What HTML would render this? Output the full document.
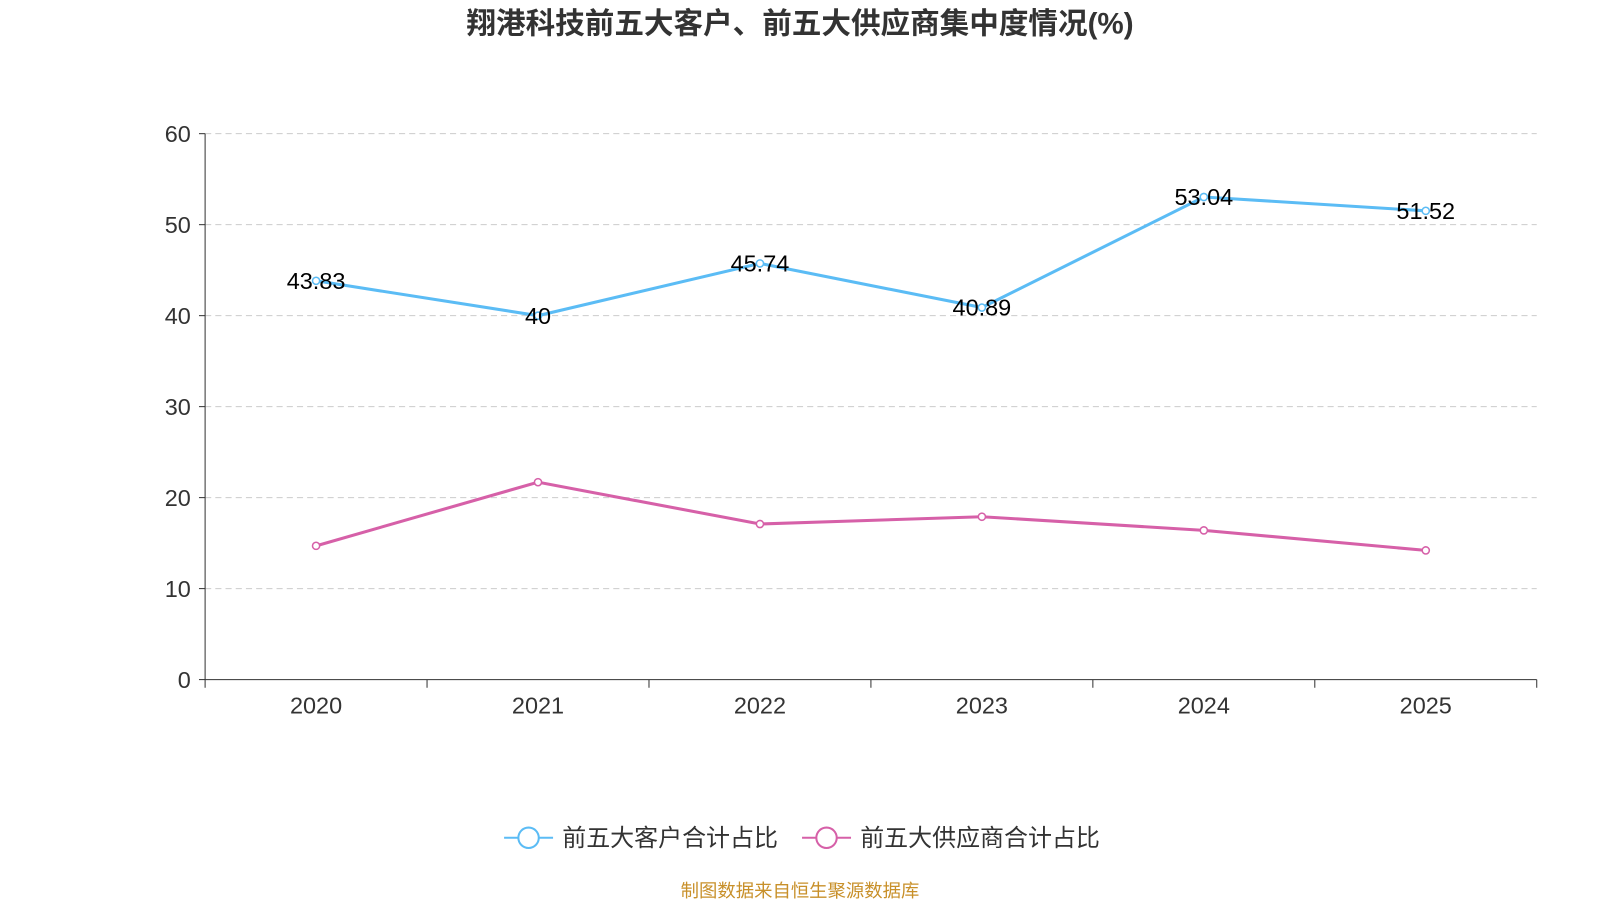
<!DOCTYPE html>
<html><head><meta charset="utf-8"><style>
body{margin:0;background:#fff;width:1600px;height:900px;overflow:hidden;font-family:"Liberation Sans","Noto Sans CJK SC",sans-serif;}
</style></head><body>
<svg id="c" width="1600" height="900" viewBox="0 0 1568 882" xmlns="http://www.w3.org/2000/svg">
<text x="784" y="33" text-anchor="middle" font-size="29" font-weight="bold" fill="#333" font-family="Liberation Sans, Noto Sans CJK SC, sans-serif">翔港科技前五大客户、前五大供应商集中度情况(%)</text>
<g id="grid"></g><g id="axes"></g><g id="series"></g>
<g>
<g>
<line x1="494" y1="821" x2="542" y2="821" stroke="#5bbcf5" stroke-width="2"/>
<circle cx="518" cy="821" r="10" fill="#fff" stroke="#5bbcf5" stroke-width="2"/>
<text x="551" y="829" font-size="23.5" fill="#333">前五大客户合计占比</text></g>
<g>
<line x1="786" y1="821" x2="834" y2="821" stroke="#d660a8" stroke-width="2"/>
<circle cx="810" cy="821" r="10" fill="#fff" stroke="#d660a8" stroke-width="2"/>
<text x="843" y="829" font-size="23.5" fill="#333">前五大供应商合计占比</text></g>
</g>
<text x="784" y="879" text-anchor="middle" font-size="18" fill="#c8902a">制图数据来自恒生聚源数据库</text>
</svg>
<script>
const categories=["2020","2021","2022","2023","2024","2025"];
const customers=[43.83,40,45.74,40.89,53.04,51.52];
const suppliers=[14.7,21.7,17.1,17.9,16.4,14.2];
const yTicks=[0,10,20,30,40,50,60];
const NS="http://www.w3.org/2000/svg";
const x0=201,x1=1506,yb=666,yt=131,ymax=60;
const band=(x1-x0)/categories.length;
const X=i=>x0+band*(i+0.5);
const Y=v=>yb-(v/ymax)*(yb-yt);
function mk(t,a,p){const e=document.createElementNS(NS,t);for(const k in a)e.setAttribute(k,a[k]);p.appendChild(e);return e;}
const grid=document.getElementById('grid'),axes=document.getElementById('axes'),ser=document.getElementById('series');
yTicks.forEach(v=>{
 if(v>0){const g=mk('line',{x1:x0,x2:x1,y1:Y(v),y2:Y(v),stroke:'#ccc','stroke-dasharray':'6,4'},grid);
 
 }
 const tk=mk('line',{x1:x0-6,x2:x0,y1:Y(v),y2:Y(v),stroke:'#333'},axes);
 
 
 const t=mk('text',{x:x0-14,y:Y(v)+8,'text-anchor':'end','font-size':23,fill:'#333'},axes);t.textContent=v;
 
 
});
const ya=mk('line',{x1:x0,x2:x0,y1:yt,y2:yb,stroke:'#333'},axes);


const xa=mk('line',{x1:x0,x2:x1,y1:yb,y2:yb,stroke:'#333'},axes);


for(let i=0;i<=categories.length;i++){const t=mk('line',{x1:x0+band*i,x2:x0+band*i,y1:yb,y2:yb+8,stroke:'#333'},axes);
 
 }
categories.forEach((c,i)=>{const t=mk('text',{x:X(i),y:699,'text-anchor':'middle','font-size':23,fill:'#333'},axes);t.textContent=c;
 
 });
function draw(vals,color,name,labels){
 const p=mk('polyline',{points:vals.map((v,i)=>X(i)+','+Y(v)).join(' '),fill:'none',stroke:color,'stroke-width':3},ser);
 
 
 vals.forEach((v,i)=>{const c=mk('circle',{cx:X(i),cy:Y(v),r:3.5,fill:'#fff',stroke:color,'stroke-width':1.5},ser);
  
  
  if(labels){const t=mk('text',{x:X(i),y:Y(v)+8,'text-anchor':'middle','font-size':23,fill:'#000'},ser);t.textContent=v;
  
  }
 });
}
draw(suppliers,'#d660a8','suppliers',false);
draw(customers,'#5bbcf5','customers',true);
</script>
</body></html>
